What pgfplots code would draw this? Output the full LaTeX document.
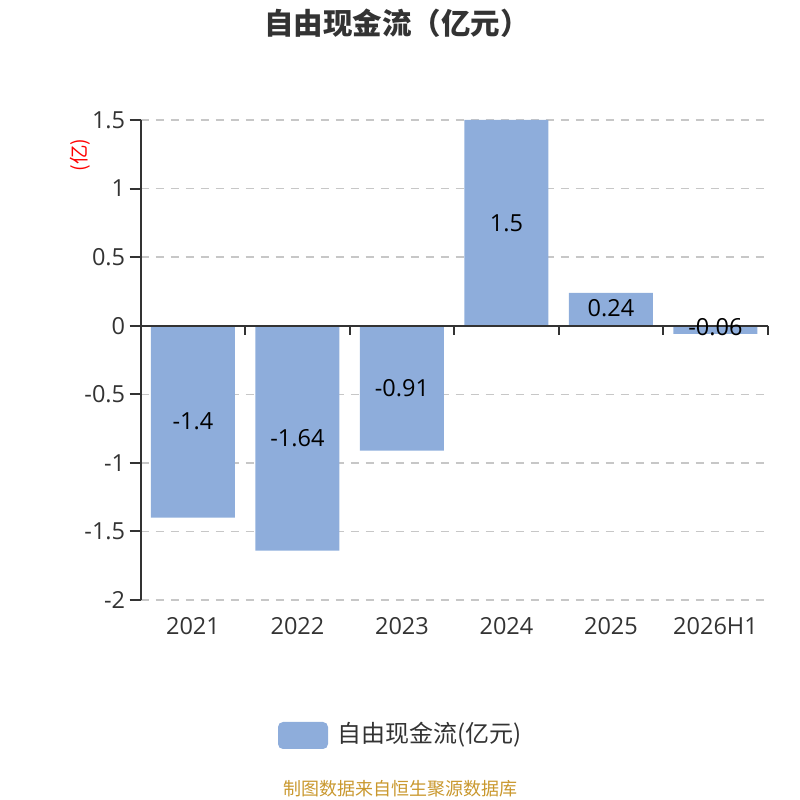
\documentclass[border=0pt]{standalone}
\usepackage{pgfplots}
\pgfplotsset{compat=1.18}
\usepackage{fontspec}
\setmainfont{Open Sans}
\newfontfamily\cjk{Noto Sans CJK SC}
\definecolor{barc}{HTML}{8EADDB}
\definecolor{txt}{HTML}{333333}
\definecolor{foot}{HTML}{C9982E}
\begin{document}
\begin{tikzpicture}
\path[use as bounding box] (0pt,0pt) rectangle (800pt,800pt);
\begin{axis}[
  at={(140.7pt,200pt)}, anchor=south west,
  width=627pt, height=480pt, scale only axis,
  xmin=-0.5, xmax=5.5, ymin=-2, ymax=1.5,
  ytick={-2,-1.5,-1,-0.5,0,0.5,1,1.5},
  xtick=\empty,
  axis x line=none,
  axis y line*=left,
  y axis line style={txt, line width=2pt, -},
  ytick style={txt, line width=2pt},
  major tick length=11pt,
  tick align=outside,
  ymajorgrids, grid style={black!22, dash pattern=on 8pt off 7pt, line width=1.4pt},
  yticklabel style={font=\fontsize{23.5}{23.5}\selectfont, text=txt, xshift=-1pt},
  /pgf/number format/assume math mode=true,
  clip=false,
]
\addplot[ybar, bar width=84pt, fill=barc, draw=none] coordinates {(0,-1.4) (1,-1.64) (2,-0.91) (3,1.5) (4,0.24) (5,-0.06)};
\addplot[draw=none, mark=none, nodes near coords, point meta=explicit symbolic,
  nodes near coords align={center},
  every node near coord/.append style={font=\fontsize{23.5}{23.5}\selectfont, text=black, anchor=center}]
  table[meta=label] {
x y label
0 -0.70 -1.4
1 -0.82 -1.64
2 -0.455 -0.91
3 0.75 1.5
4 0.13 0.24
5 -0.01 -0.06
};
\addplot[txt, line width=2pt, mark=none] coordinates {(-0.5,0) (5.5,0)};
\pgfplotsinvokeforeach{0.5,1.5,2.5,3.5,4.5,5.5}{
  \draw[txt, line width=2pt] (axis cs:#1,0) -- (axis cs:#1,-0.07);
}
\node[font=\fontsize{23.5}{23.5}\selectfont, text=txt] at (axis cs:0,-2.19) {2021};
\node[font=\fontsize{23.5}{23.5}\selectfont, text=txt] at (axis cs:1,-2.19) {2022};
\node[font=\fontsize{23.5}{23.5}\selectfont, text=txt] at (axis cs:2,-2.19) {2023};
\node[font=\fontsize{23.5}{23.5}\selectfont, text=txt] at (axis cs:3,-2.19) {2024};
\node[font=\fontsize{23.5}{23.5}\selectfont, text=txt] at (axis cs:4,-2.19) {2025};
\node[font=\fontsize{23.5}{23.5}\selectfont, text=txt] at (axis cs:5,-2.19) {2026H1};
\end{axis}
\node[font=\cjk\fontsize{29.5}{29.5}\selectfont\bfseries, text=txt] at (397pt,777pt) {自由现金流（亿元）};
\node[font=\cjk\fontsize{19.5}{19.5}\selectfont, text=red, rotate=90] at (80pt,645pt) {(亿)};
\fill[barc, rounded corners=5pt] (278pt,51pt) rectangle (328pt,78pt);
\node[font=\cjk\fontsize{24}{24}\selectfont, text=txt, anchor=west] at (334pt,65pt) {自由现金流(亿元)};
\node[font=\cjk\fontsize{18}{18}\selectfont, text=foot] at (400pt,11pt) {制图数据来自恒生聚源数据库};
\end{tikzpicture}
\end{document}
